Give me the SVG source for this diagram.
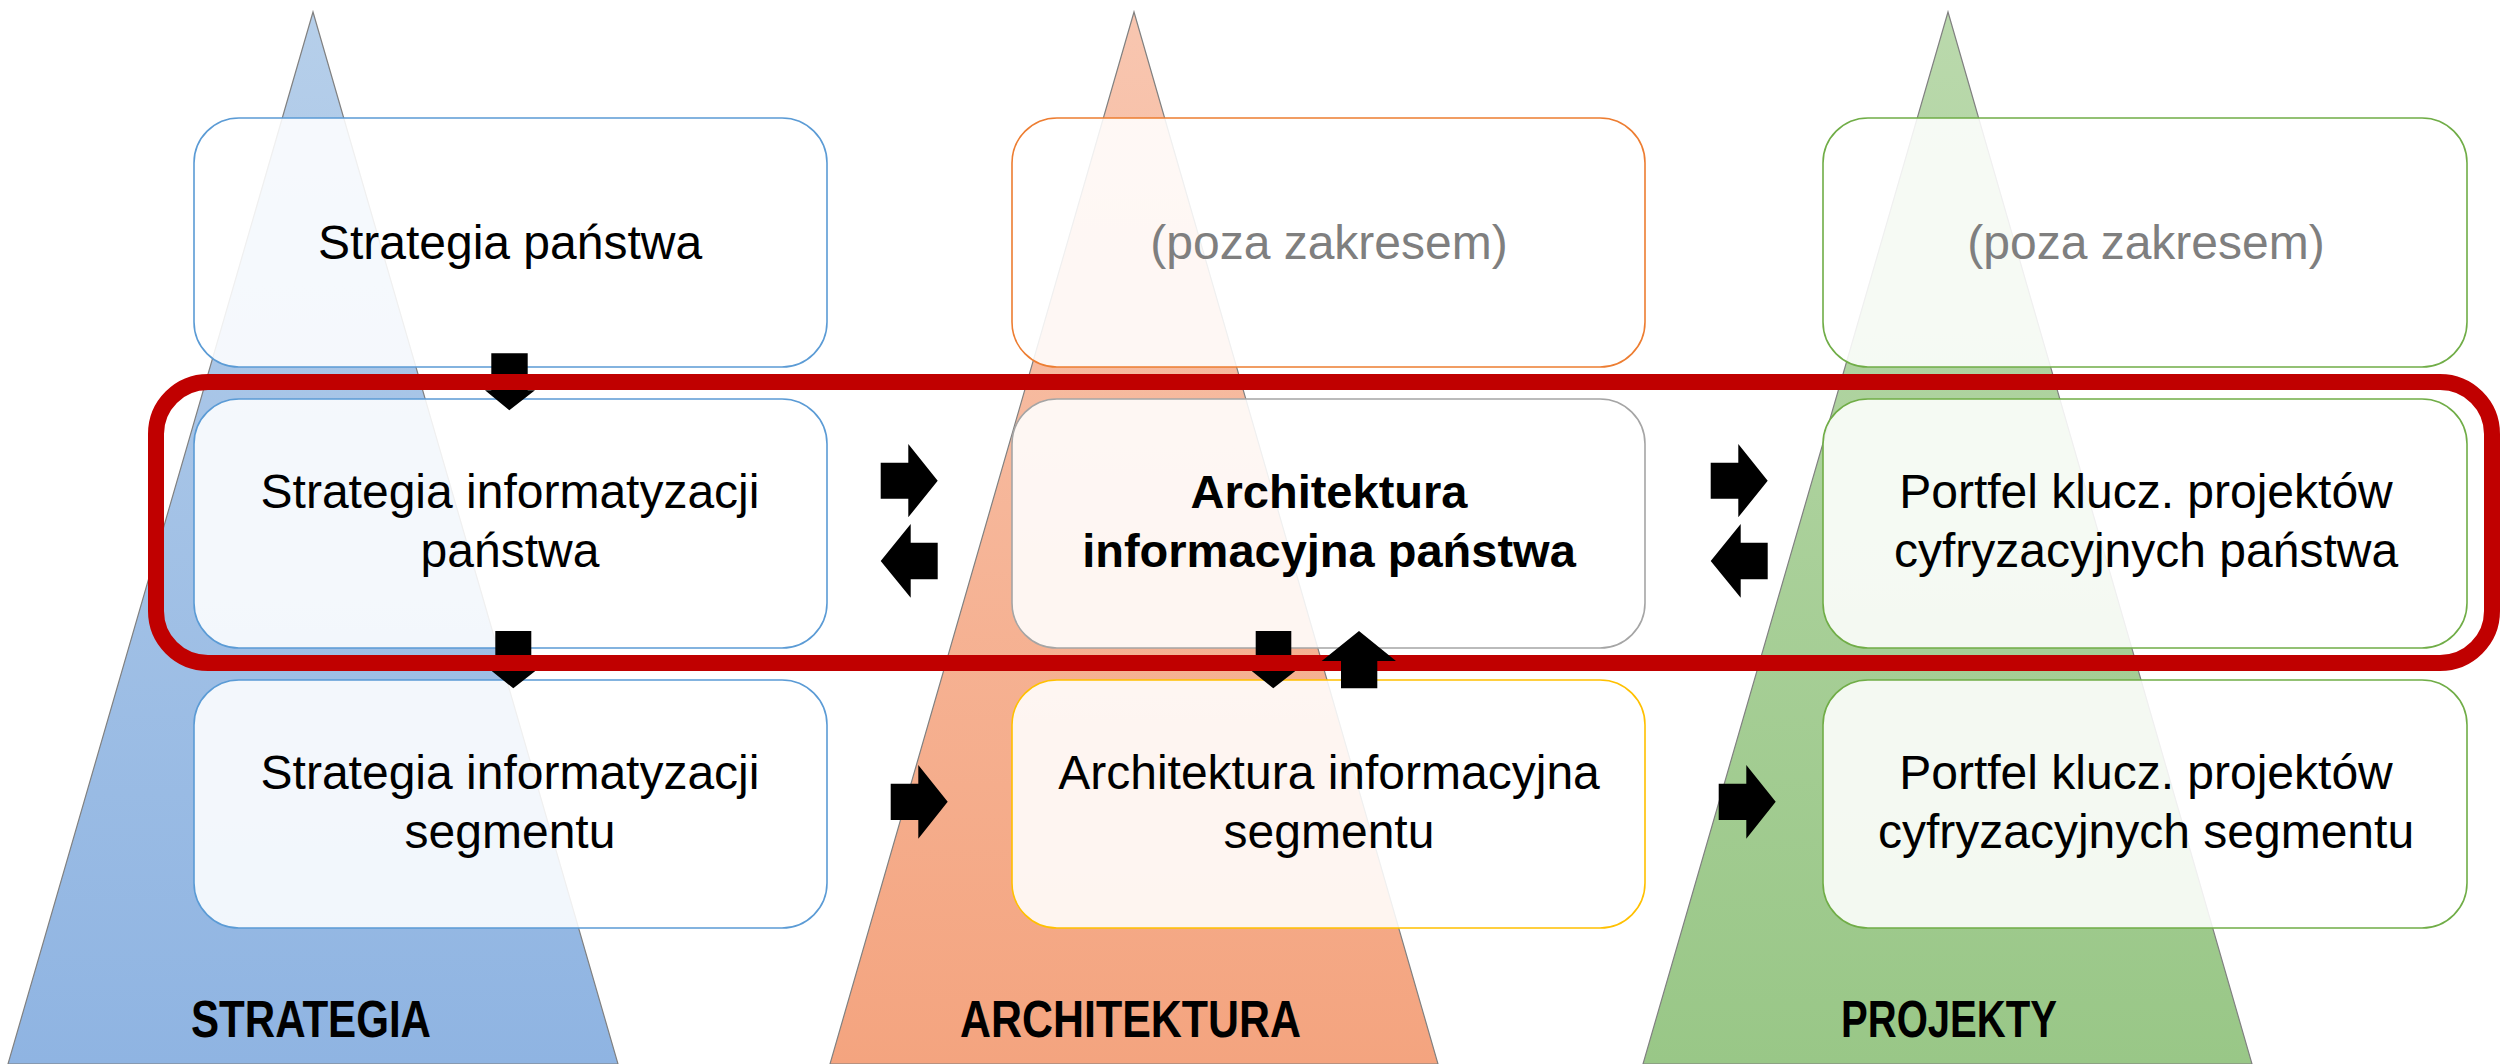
<svg xmlns="http://www.w3.org/2000/svg" width="2501" height="1064" viewBox="0 0 2501 1064">
<style>
.tri{stroke:#808080;stroke-width:1.2}
.box{fill:#ffffff;fill-opacity:0.88;stroke-width:1.6}
.b{stroke:#5b9bd5}.o{stroke:#ed7d31}.g{stroke:#70ad47}.n{stroke:#a5a5a5}.y{stroke:#ffc000}
.t{font-family:"Liberation Sans",Arial,sans-serif;font-size:48px;fill:#000;text-anchor:middle}
.gray{fill:#7f7f7f}
.bold{font-weight:bold;font-size:47px}
.lbl{font-family:"Liberation Sans",Arial,sans-serif;font-size:52px;font-weight:bold;fill:#000}
.arr{fill:#000}
.frame{fill:none;stroke:#c00000;stroke-width:16}
</style>
<defs>
<linearGradient id="gb" x1="0" y1="0" x2="0" y2="1"><stop offset="0" stop-color="#b6cfea"/><stop offset="1" stop-color="#8fb4e2"/></linearGradient>
<linearGradient id="go" x1="0" y1="0" x2="0" y2="1"><stop offset="0" stop-color="#f8c6b0"/><stop offset="1" stop-color="#f4a47f"/></linearGradient>
<linearGradient id="gg" x1="0" y1="0" x2="0" y2="1"><stop offset="0" stop-color="#bad9ac"/><stop offset="1" stop-color="#99c787"/></linearGradient>
</defs>
<g id="triangles">
<polygon class="tri" fill="url(#gb)" points="313,12 8,1064 618,1064"/>
<polygon class="tri" fill="url(#go)" points="1134,12 830,1064 1438,1064"/>
<polygon class="tri" fill="url(#gg)" points="1948,12 1643,1064 2252,1064"/>
</g>
<g id="labels">
<text class="lbl" x="191" y="1037" textLength="240" lengthAdjust="spacingAndGlyphs">STRATEGIA</text>
<text class="lbl" x="960" y="1037" textLength="341" lengthAdjust="spacingAndGlyphs">ARCHITEKTURA</text>
<text class="lbl" x="1841" y="1037" textLength="216" lengthAdjust="spacingAndGlyphs">PROJEKTY</text>
</g>
<g id="strategia-panstwa">
<rect class="box b" x="194" y="118" width="633" height="249" rx="45"/>
<text class="t" x="510" y="259">Strategia państwa</text>
</g>
<g id="poza-zakresem-arch">
<rect class="box o" x="1012" y="118" width="633" height="249" rx="45"/>
<text class="t gray" x="1329" y="259">(poza zakresem)</text>
</g>
<g id="poza-zakresem-proj">
<rect class="box g" x="1823" y="118" width="644" height="249" rx="45"/>
<text class="t gray" x="2146" y="259">(poza zakresem)</text>
</g>
<g id="strategia-informatyzacji-panstwa">
<rect class="box b" x="194" y="399" width="633" height="249" rx="45"/>
<text class="t" x="510" y="508">Strategia informatyzacji</text>
<text class="t" x="510" y="567">państwa</text>
</g>
<g id="architektura-informacyjna-panstwa">
<rect class="box n" x="1012" y="399" width="633" height="249" rx="45"/>
<text class="t bold" x="1329" y="508">Architektura</text>
<text class="t bold" x="1329" y="567">informacyjna państwa</text>
</g>
<g id="portfel-panstwa">
<rect class="box g" x="1823" y="399" width="644" height="249" rx="45"/>
<text class="t" x="2146" y="508">Portfel klucz. projektów</text>
<text class="t" x="2146" y="567">cyfryzacyjnych państwa</text>
</g>
<g id="strategia-informatyzacji-segmentu">
<rect class="box b" x="194" y="680" width="633" height="248" rx="45"/>
<text class="t" x="510" y="789">Strategia informatyzacji</text>
<text class="t" x="510" y="848">segmentu</text>
</g>
<g id="architektura-informacyjna-segmentu">
<rect class="box y" x="1012" y="680" width="633" height="248" rx="45"/>
<text class="t" x="1329" y="789">Architektura informacyjna</text>
<text class="t" x="1329" y="848">segmentu</text>
</g>
<g id="portfel-segmentu">
<rect class="box g" x="1823" y="680" width="644" height="248" rx="45"/>
<text class="t" x="2146" y="789">Portfel klucz. projektów</text>
<text class="t" x="2146" y="848">cyfryzacyjnych segmentu</text>
</g>
<g id="connectors">
<polygon class="arr" points="491.3,353.3 527.7,353.3 527.7,390.3 535,390.3 509.3,410.3 485,390.3 491.3,390.3"/>
<polygon class="arr" points="495.3,631 531.3,631 531.3,671 535.3,671 513.3,688.3 491.7,671 495.3,671"/>
<polygon class="arr" points="880.7,462.7 908.3,462.7 908.3,444 937.7,480.7 908.3,517.3 908.3,498.7 880.7,498.7"/>
<polygon class="arr" points="937.7,542.7 910.7,542.7 910.7,524 880.7,561 910.7,597.7 910.7,579.3 937.7,579.3"/>
<polygon class="arr" points="890.7,783.7 918.3,783.7 918.3,765 947.7,801.7 918.3,838.7 918.3,820 890.7,820"/>
<polygon class="arr" points="1255.7,631 1291.3,631 1291.3,671 1295.3,671 1273.3,688.3 1251.7,671 1255.7,671"/>
<polygon class="arr" points="1710.7,462.7 1738.3,462.7 1738.3,444 1767.7,480.7 1738.3,517.3 1738.3,498.7 1710.7,498.7"/>
<polygon class="arr" points="1767.7,542.7 1740.7,542.7 1740.7,524 1710.7,561 1740.7,597.7 1740.7,579.3 1767.7,579.3"/>
<polygon class="arr" points="1718.7,783.7 1746.3,783.7 1746.3,765 1775.7,801.7 1746.3,838.7 1746.3,820 1718.7,820"/>
</g>
<g id="scope-frame">
<rect class="frame" x="156" y="382" width="2336" height="281" rx="52"/>
</g>
<g id="connector-up">
<polygon class="arr" points="1359,631 1396,661 1377.3,661 1377.3,688.3 1341,688.3 1341,661 1321.7,661"/>
</g>
</svg>
